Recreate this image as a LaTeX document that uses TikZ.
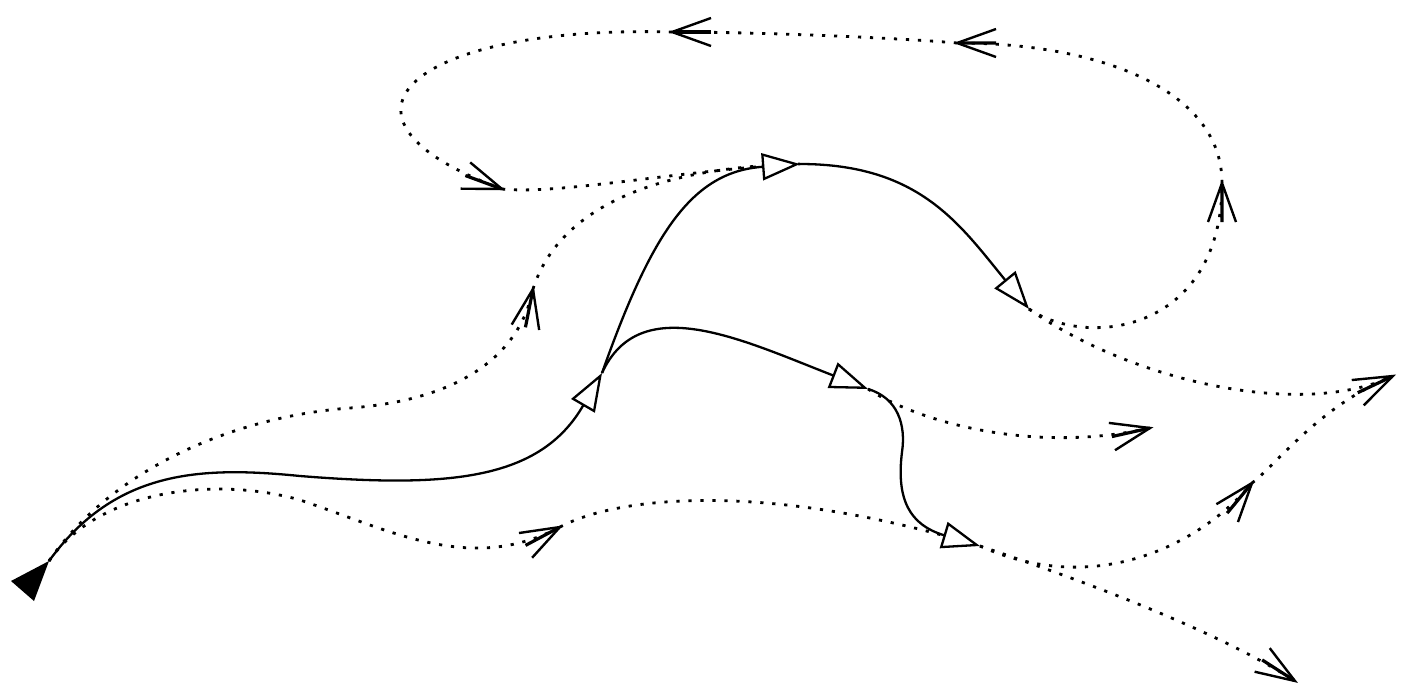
\documentclass[tikz,border=0pt]{standalone}
\usetikzlibrary{arrows.meta,decorations.markings}
\tikzset{
  sline/.style={line width=1.15pt, line join=miter, -{Triangle[length=19pt,width=13.5pt,fill=white,line join=miter]}},
  dline/.style={line width=1.4pt, dash pattern=on 1.6pt off 4.4pt},
  barbend/.style={postaction={decorate,decoration={markings,
      mark=at position 0.9999 with {
        \draw[solid,line width=1.2pt,line cap=butt,line join=miter]
          (-19.5pt,7pt) -- (0pt,0pt) -- (-19.5pt,-7pt);
        \draw[solid,line width=1.6pt,line cap=butt] (-19.5pt,0pt) -- (-0.5pt,0pt);}}}}
}
\begin{document}
\begin{tikzpicture}[x=0.5pt,y=-0.5pt]
\useasboundingbox (0,0) rectangle (1417,691);
% nodes (branch points)
\coordinate (R)  at (49,561);
\coordinate (N1) at (602,373);
\coordinate (N2) at (800,164);
\coordinate (N3) at (868,389);
\coordinate (N4) at (1029,309);
\coordinate (N5) at (980,546);
% leaves
\coordinate (L1) at (1150,428);
\coordinate (L2) at (1393,376);
\coordinate (L3) at (1295,681);
% intermediate arrow points
\coordinate (A1) at (533,289);
\coordinate (A2) at (560,527);
\coordinate (A3) at (1222,183);
\coordinate (A4) at (957,43);
\coordinate (A5) at (672,32);
\coordinate (A6) at (502,189);
\coordinate (A7) at (1252,483);
% via points
\coordinate (s1m) at (300,476);
\coordinate (s5m) at (902,452);
\coordinate (d1m) at (350,408);
\coordinate (d2m) at (300,500);

% dotted paths
\draw[dline,barbend] (R) .. controls +(66,-96) and +(-110,8) .. (d1m)
                         .. controls +(110,-8) and +(-13,66) .. (A1);
\draw[dline] (A1) .. controls +(17,-54) and +(-190,4) .. (N2);
\draw[dline,barbend] (R) .. controls +(51,-74) and +(-80,-23) .. (d2m)
                         .. controls +(90,30) and +(-90,48) .. (A2);
\draw[dline] (A2) .. controls +(60,-32) and +(-210,-64) .. (N5);
\draw[dline,barbend] (N4) .. controls +(61,41) and +(0,147) .. (A3);
\draw[dline,barbend] (A3) .. controls +(0,-93) and +(143,0) .. (A4);
\draw[dline,barbend] (A4) .. controls +(-57,-5) and +(88,0) .. (A5);
\draw[dline,barbend] (A5) .. controls +(-260,-7) and +(-196,-72) .. (A6);
\draw[dline] (A6) .. controls +(58,6) and +(-120,6) .. (N2);
\draw[dline,barbend] (N3) .. controls +(47,31) and +(-120,27) .. (L1);
\draw[dline,barbend] (N4) .. controls +(101,71) and +(-93,44) .. (L2);
\draw[dline,barbend] (N5) .. controls +(120,54) and +(-47,57) .. (A7);
\draw[dline] (A7) .. controls +(23,-17) and +(-73,29) .. (L2);
\draw[dline,barbend] (N5) .. controls +(50,17) and +(-95,-61) .. (L3);

% solid paths
\draw[sline] (R) .. controls +(66,-91) and +(-100,-10) .. (s1m)
                 .. controls +(150,12) and +(-62,107) .. (N1);
\draw[sline] (N1) .. controls +(50,-141) and +(-108,8) .. (N2);
\draw[sline] (N1) .. controls +(38,-83) and +(-126,-49) .. (N3);
\draw[sline] (N2) .. controls +(120,0) and +(-69,-84) .. (N4);
\draw[sline] (N3) .. controls +(30,9) and +(4,-27) .. (s5m)
                  .. controls +(-6,48) and +(-70,-21) .. (N5);

% root marker
\fill[line join=miter] (R) -- (11,581) -- (34,601) -- cycle;
\end{tikzpicture}
\end{document}
